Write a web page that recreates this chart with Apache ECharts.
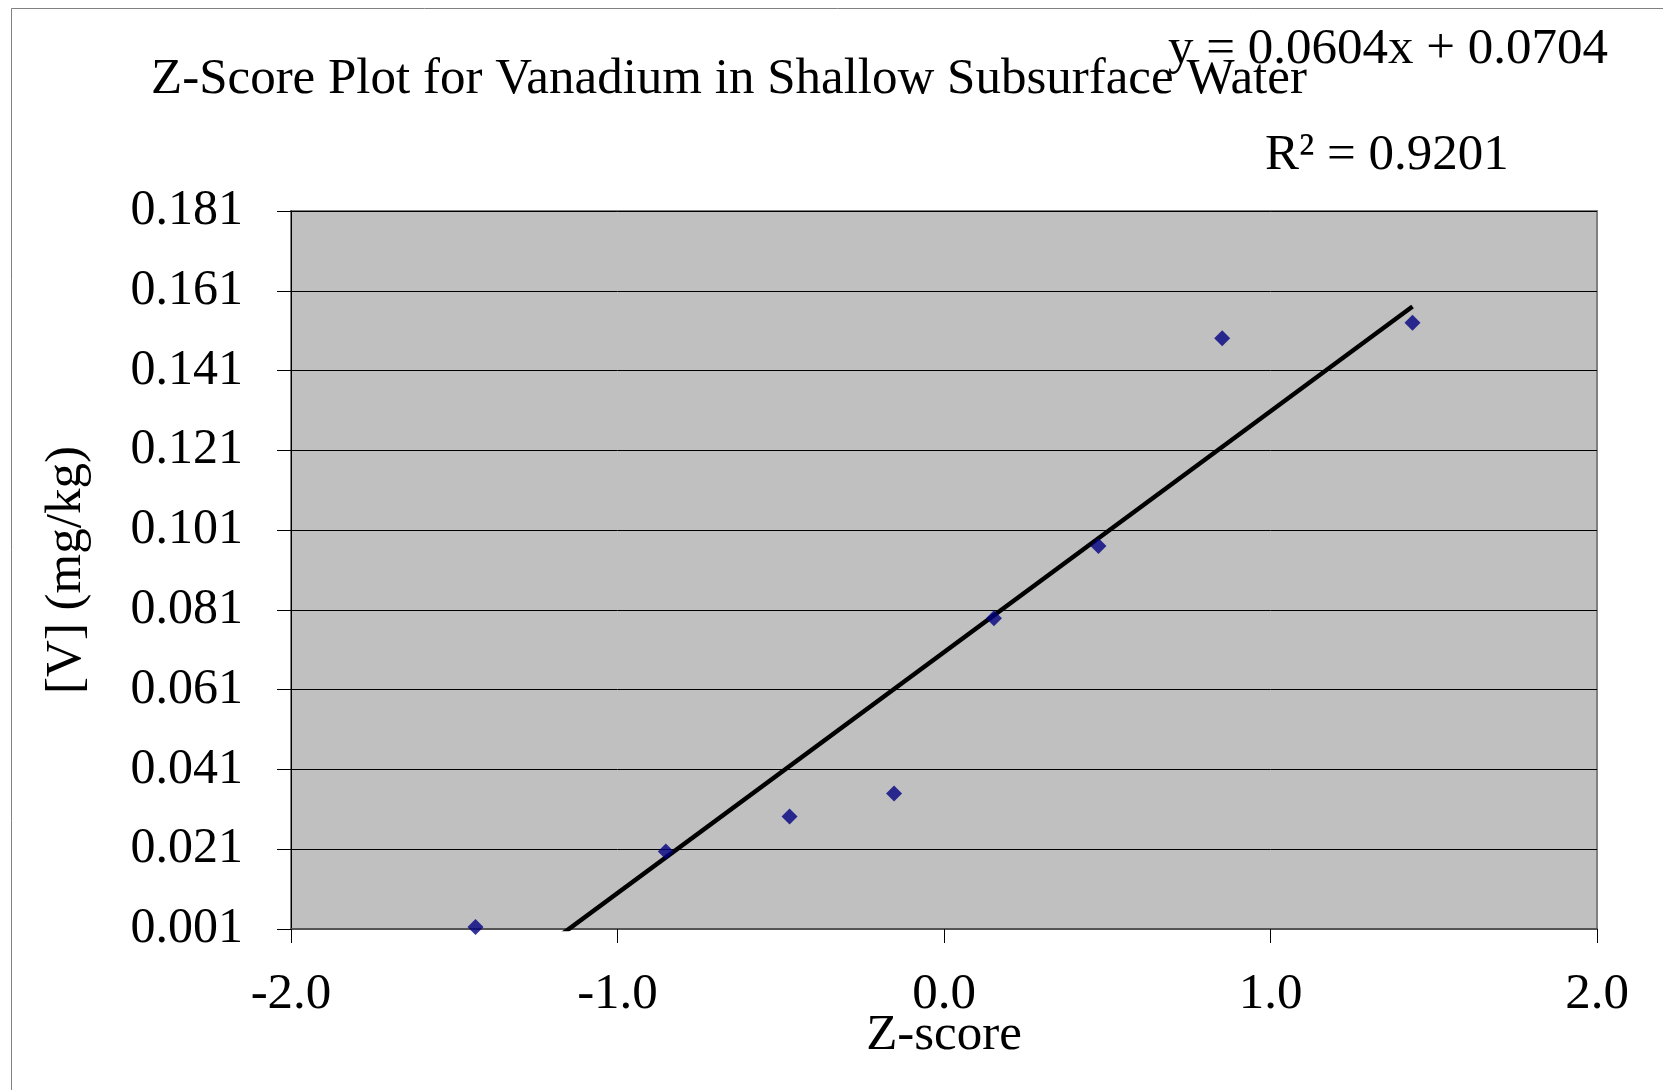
<!DOCTYPE html>
<html>
<head>
<meta charset="utf-8">
<script src="https://cdn.jsdelivr.net/npm/echarts@6/dist/echarts.min.js"></script>
<style>
html,body{margin:0;padding:0;background:#fff;}
#chart{width:1663px;height:1090px;}
</style>
</head>
<body>
<div id="chart"></div>
<script>
// Data
const zScores = [-1.435, -0.852, -0.473, -0.153, 0.153, 0.473, 0.852, 1.435];
const vanadium = [0.0015, 0.0204, 0.0292, 0.0350, 0.0789, 0.0970, 0.1491, 0.1530];
const trendSlope = 0.0604;
const trendIntercept = 0.0704;
const rSquared = 0.9201;
const xTicks = [-2.0, -1.0, 0.0, 1.0, 2.0];
const yTicks = [0.001, 0.021, 0.041, 0.061, 0.081, 0.101, 0.121, 0.141, 0.161, 0.181];

const FONT = "'Liberation Serif', 'Times New Roman', serif";
const points = zScores.map((z, i) => [z, vanadium[i]]);
const zMin = Math.min(...zScores), zMax = Math.max(...zScores);
const trend = [zMin, zMax].map(z => [z, trendSlope * z + trendIntercept]);

const chart = echarts.init(document.getElementById('chart'), null, {renderer: 'canvas'});
chart.setOption({
  backgroundColor: '#ffffff',
  animation: false,
  grid: {left: 291, top: 211, right: 66, bottom: 161, show: true, backgroundColor: '#c0c0c0', borderColor: '#808080', borderWidth: 2},
  xAxis: {
    type: 'value', min: xTicks[0], max: xTicks[xTicks.length - 1], interval: 1,
    name: 'Z-score', nameLocation: 'middle', nameGap: 81, nameMoveOverlap: false,
    nameTextStyle: {fontFamily: FONT, fontSize: 51, color: '#000'},
    axisLine: {onZero: false, lineStyle: {color: '#555', width: 2}},
    axisTick: {show: true, inside: false, length: 14, lineStyle: {color: '#000', width: 1}},
    axisLabel: {fontFamily: FONT, fontSize: 51, color: '#000', margin: 40, formatter: v => v.toFixed(1)},
    splitLine: {show: false}
  },
  yAxis: {
    type: 'value', min: yTicks[0], max: yTicks[yTicks.length - 1], interval: 0.02,
    name: '[V] (mg/kg)', nameLocation: 'middle', nameGap: 199, nameRotate: 90, nameMoveOverlap: false,
    nameTextStyle: {fontFamily: FONT, fontSize: 51, color: '#000'},
    axisLine: {onZero: false, lineStyle: {color: '#000', width: 1}},
    axisTick: {show: true, inside: false, length: 14, lineStyle: {color: '#000', width: 1}},
    axisLabel: {fontFamily: FONT, fontSize: 50, color: '#000', margin: 48, formatter: v => v.toFixed(3)},
    splitLine: {show: true, lineStyle: {color: '#000', width: 1}}
  },
  graphic: [
    {type: 'rect', left: 9, top: 6, shape: {width: 1700, height: 1120}, style: {fill: null, stroke: '#808080', lineWidth: 1}, z: -10, silent: true},
    {type: 'text', x: 151, y: 80, style: {text: 'Z-Score Plot for Vanadium in Shallow Subsurface Water', font: '51px ' + FONT, fill: '#000', textAlign: 'left', textVerticalAlign: 'middle'}, z: 10},
    {type: 'text', x: 1168, y: 50, style: {text: 'y = ' + trendSlope.toFixed(4) + 'x + ' + trendIntercept.toFixed(4), font: '51px ' + FONT, fill: '#000', textAlign: 'left', textVerticalAlign: 'middle'}, z: 11},
    {type: 'text', x: 1265, y: 156, style: {text: 'R² = ' + rSquared.toFixed(4), font: '51px ' + FONT, fill: '#000', textAlign: 'left', textVerticalAlign: 'middle'}, z: 11}
  ],
  series: [
    {type: 'line', data: trend, showSymbol: false, symbol: 'none', clip: true,
     lineStyle: {color: '#000', width: 4.5}, z: 3},
    {type: 'scatter', data: points, symbol: 'diamond', symbolSize: 16,
     itemStyle: {color: '#000080'}, z: 4}
  ]
});
</script>
</body>
</html>
